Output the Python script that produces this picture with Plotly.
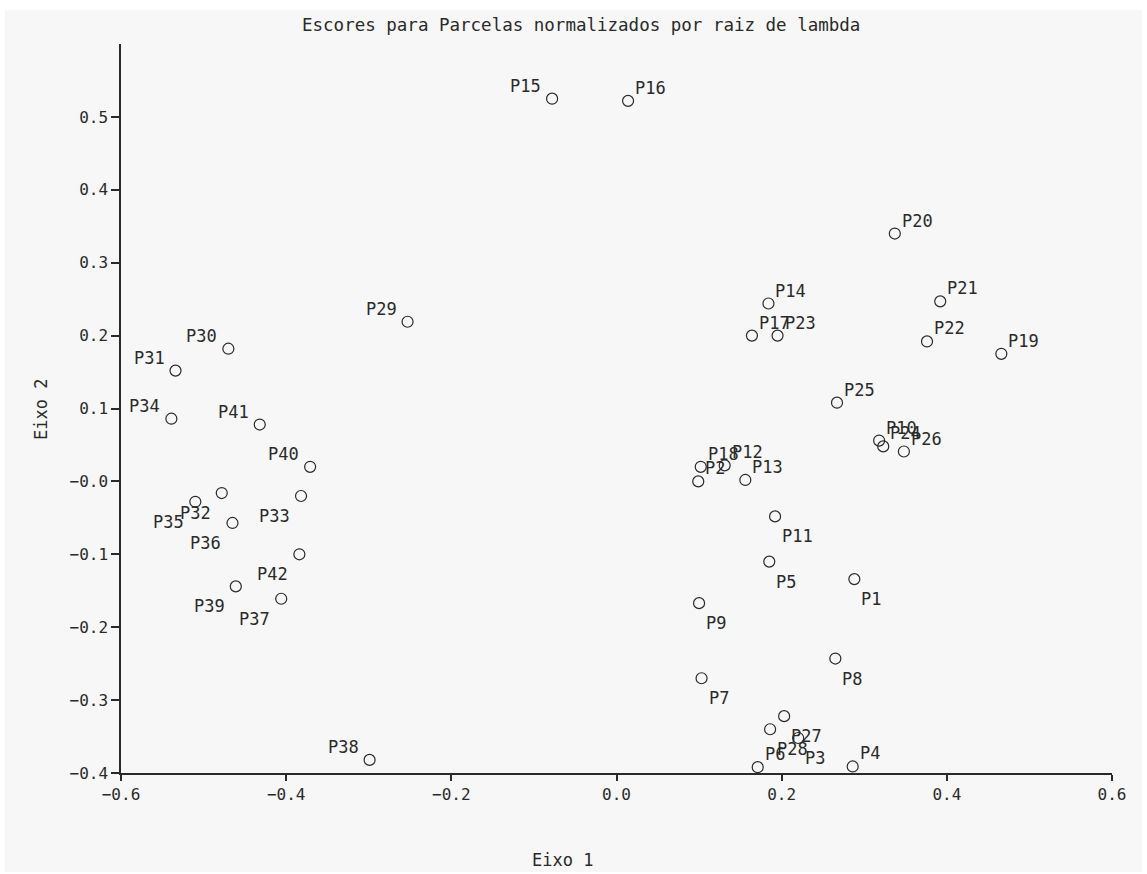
import plotly.graph_objects as go

# Scores of the plots (parcelas) on the first two axes, scaled by sqrt(lambda)
parcelas = [
    "P1", "P2", "P3", "P4", "P5", "P6", "P7", "P8", "P9", "P10",
    "P11", "P12", "P13", "P14", "P15", "P16", "P17", "P18", "P19", "P20",
    "P21", "P22", "P23", "P24", "P25", "P26", "P27", "P28", "P29", "P30",
    "P31", "P32", "P33", "P34", "P35", "P36", "P37", "P38", "P39", "P40",
    "P41", "P42",
]
eixo1 = [
    0.288, 0.099, 0.220, 0.286, 0.185, 0.171, 0.103, 0.265, 0.100, 0.318,
    0.192, 0.131, 0.156, 0.184, -0.078, 0.014, 0.164, 0.102, 0.466, 0.337,
    0.392, 0.376, 0.195, 0.323, 0.267, 0.348, 0.203, 0.186, -0.253, -0.470,
    -0.534, -0.478, -0.382, -0.539, -0.510, -0.465, -0.406, -0.299, -0.461, -0.371,
    -0.432, -0.384,
]
eixo2 = [
    -0.134, 0.000, -0.352, -0.391, -0.110, -0.392, -0.270, -0.243, -0.167, 0.056,
    -0.048, 0.022, 0.002, 0.244, 0.525, 0.522, 0.200, 0.020, 0.175, 0.340,
    0.247, 0.192, 0.200, 0.048, 0.108, 0.041, -0.322, -0.340, 0.219, 0.182,
    0.152, -0.016, -0.020, 0.086, -0.028, -0.057, -0.161, -0.382, -0.144, 0.020,
    0.078, -0.100,
]

x_ticks = [-0.6, -0.4, -0.2, 0.0, 0.2, 0.4, 0.6]
x_ticktext = ["\u22120.6", "\u22120.4", "\u22120.2", "0.0", "0.2", "0.4", "0.6"]
y_ticks = [-0.4, -0.3, -0.2, -0.1, 0.0, 0.1, 0.2, 0.3, 0.4, 0.5]
y_ticktext = ["\u22120.4", "\u22120.3", "\u22120.2", "\u22120.1", "\u22120.0",
              "0.1", "0.2", "0.3", "0.4", "0.5"]

FONT = "DejaVu Sans Mono"
INK = "#2a2a2a"
BG = "#f7f7f7"

fig = go.Figure()
fig.add_trace(go.Scatter(
    x=eixo1, y=eixo2, mode="markers", text=parcelas,
    marker=dict(symbol="circle-open", size=11, color=INK, line=dict(width=1.2, color=INK)),
    hoverinfo="text", cliponaxis=False, showlegend=False,
))

# Point labels: placed away from the origin by quadrant,
# and kept above the points that sit on the bottom axis.
annotations = []
for name, px, py in zip(parcelas, eixo1, eixo2):
    above = py >= 0 or py < -0.37
    right = px >= 0
    annotations.append(dict(
        x=px, y=py, xref="x", yref="y", text=name, showarrow=False,
        xanchor="left" if right else "right",
        yanchor="bottom" if above else "top",
        xshift=5 if right else -9,
        yshift=1 if above else -8,
        font=dict(family=FONT, size=17, color=INK),
    ))

annotations += [
    dict(text="Escores para Parcelas normalizados por raiz de lambda",
         x=581, y=25, showarrow=False,
         font=dict(family=FONT, size=17.5, color=INK)),
    dict(text="Eixo 1", x=562, y=860, showarrow=False,
         font=dict(family=FONT, size=17, color=INK)),
    dict(text="Eixo 2", x=41, y=410, showarrow=False, textangle=-90,
         font=dict(family=FONT, size=17, color=INK)),
]

# convert the three pixel-placed texts to paper coordinates
W, H = 1147, 874
ML, MR, MT, MB = 121, 35, 44, 101
pw, ph = W - ML - MR, H - MT - MB
for a in annotations[-3:]:
    a["xref"] = "paper"
    a["yref"] = "paper"
    a["x"] = (a["x"] - ML) / pw
    a["y"] = (H - MB - a["y"]) / ph
    a["xanchor"] = "center"
    a["yanchor"] = "middle"

fig.update_layout(
    width=W, height=H,
    margin=dict(l=ML, r=MR, t=MT, b=MB),
    paper_bgcolor="white",
    plot_bgcolor="rgba(0,0,0,0)",
    annotations=annotations,
    shapes=[dict(type="rect", xref="paper", yref="paper", layer="below",
                 x0=(5 - ML) / pw, x1=(1142 - ML) / pw,
                 y0=(H - MB - 872) / ph, y1=(H - MB - 10) / ph,
                 fillcolor=BG, line=dict(width=0))],
    font=dict(family=FONT, size=16, color=INK),
    xaxis=dict(range=[-0.6, 0.6], showgrid=False, zeroline=False,
               showline=True, linecolor=INK, linewidth=1.5,
               ticks="outside", ticklen=6, tickcolor=INK, tickwidth=1.5,
               tickvals=x_ticks, ticktext=x_ticktext,
               tickfont=dict(family=FONT, size=16, color=INK)),
    yaxis=dict(range=[-0.4, 0.6], showgrid=False, zeroline=False,
               showline=True, linecolor=INK, linewidth=1.5,
               ticks="outside", ticklen=8, tickcolor=INK, tickwidth=1.5,
               tickvals=y_ticks, ticktext=y_ticktext,
               tickfont=dict(family=FONT, size=16, color=INK)),
)

fig.write_html("out.html")
